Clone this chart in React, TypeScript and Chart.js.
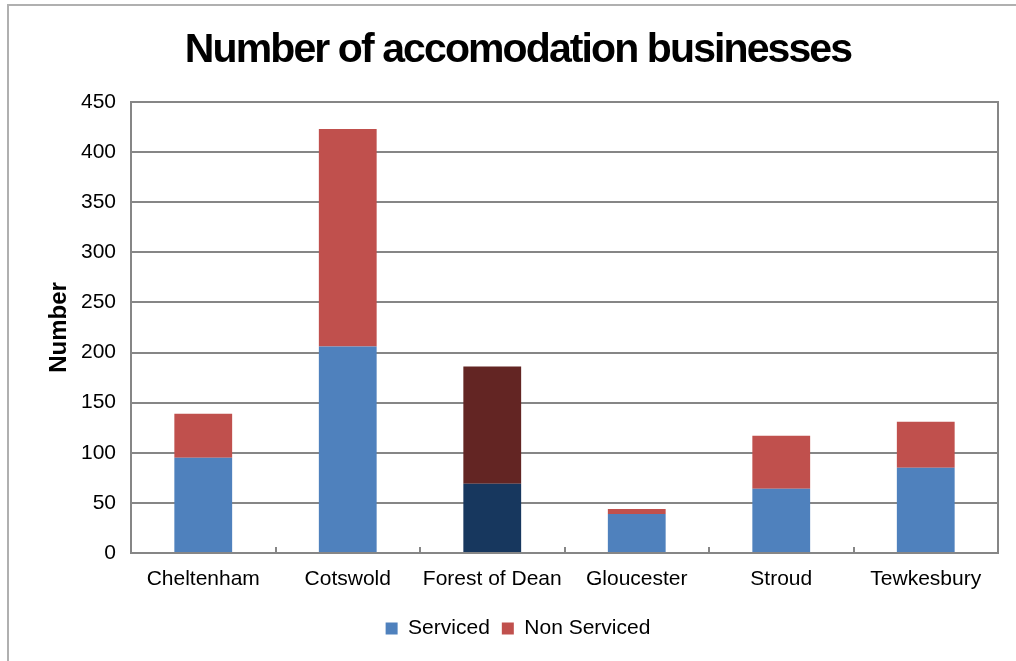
import React, { useEffect, useRef } from "react";
import { Chart, registerables } from "chart.js";

Chart.register(...registerables);

const titleText = "Number of accomodation businesses";
const categories = ["Cheltenham", "Cotswold", "Forest of Dean", "Gloucester", "Stroud", "Tewkesbury"];
const serviced = [95, 206, 69, 39, 64, 85];
const nonServiced = [44, 217, 117, 5, 53, 46];
const servicedColors = ["#4f81bd", "#4f81bd", "#17375e", "#4f81bd", "#4f81bd", "#4f81bd"];
const nonServicedColors = ["#c0504d", "#c0504d", "#632523", "#c0504d", "#c0504d", "#c0504d"];
const yTicks = [0, 50, 100, 150, 200, 250, 300, 350, 400, 450];

const GRID = "#868686";
const FONT = "'Liberation Sans', Arial, sans-serif";

const plotBorder = {
  id: "plotBorder",
  afterDatasetsDraw(chart: any) {
    const { ctx, chartArea } = chart;
    ctx.save();
    ctx.strokeStyle = GRID;
    ctx.lineWidth = 2;
    ctx.strokeRect(chartArea.left, chartArea.top, chartArea.right - chartArea.left, chartArea.bottom - chartArea.top);
    ctx.restore();
  },
};

const condensedTitle = {
  id: "condensedTitle",
  afterDraw(chart: any) {
    const { ctx } = chart;
    ctx.save();
    ctx.font = `bold 41px ${FONT}`;
    (ctx as any).letterSpacing = "-1.9px";
    ctx.fillStyle = "#000";
    ctx.textAlign = "center";
    ctx.textBaseline = "alphabetic";
    ctx.fillText(titleText, 518, 62);
    ctx.restore();
  },
};

export default function App() {
  const ref = useRef<HTMLCanvasElement>(null);
  useEffect(() => {
    const chart = new Chart(ref.current!, {
      type: "bar",
      data: {
        labels: categories,
        datasets: [
          { label: "Serviced", data: serviced, backgroundColor: servicedColors, borderWidth: 0 },
          { label: "Non Serviced", data: nonServiced, backgroundColor: nonServicedColors, borderWidth: 0 },
        ],
      },
      options: {
        animation: false,
        responsive: false,
        devicePixelRatio: 1,
        layout: { padding: { left: 38, right: 18, top: 102, bottom: 12 } },
        datasets: { bar: { barPercentage: 0.4, categoryPercentage: 1 } },
        plugins: {
          title: { display: false },
          legend: {
            position: "bottom",
            labels: {
              color: "#000",
              font: { family: FONT, size: 21 },
              boxWidth: 12,
              boxHeight: 12,
              padding: 12,
            },
          },
          tooltip: { enabled: false },
        },
        scales: {
          x: {
            stacked: true,
            grid: { display: true, drawOnChartArea: false, drawTicks: true, tickLength: -6, color: GRID, lineWidth: 2 },
            border: { color: GRID, width: 2 },
            ticks: { color: "#000", font: { family: FONT, size: 21 }, padding: 20, maxRotation: 0, minRotation: 0, autoSkip: false },
            afterFit: (s: any) => { s.height = 53; },
          },
          y: {
            stacked: true,
            min: 0,
            max: 450,
            afterBuildTicks: (s: any) => { s.ticks = yTicks.map((v) => ({ value: v })); },
            grid: { color: GRID, lineWidth: 2, drawTicks: false },
            border: { color: GRID, width: 2 },
            ticks: { color: "#000", font: { family: FONT, size: 21 }, padding: 15 },
            title: {
              display: true,
              text: "Number",
              color: "#000",
              font: { family: FONT, size: 24, weight: "bold" },
              padding: { top: 7, bottom: 0 },
            },
            afterFit: (s: any) => { s.width = 93; },
          },
        },
      },
      plugins: [plotBorder, condensedTitle],
    });
    return () => chart.destroy();
  }, []);

  return (
    <div style={{ position: "fixed", left: 0, top: 0, width: 1016, height: 661, background: "#fff", overflow: "hidden" }}>
      <div style={{ position: "absolute", left: 7, top: 4, width: 1020, height: 670, borderTop: "2px solid #b0b0b0", borderLeft: "2px solid #b0b0b0" }} />
      <canvas ref={ref} width={1016} height={661} style={{ position: "absolute", left: 0, top: 0 }} />
    </div>
  );
}
